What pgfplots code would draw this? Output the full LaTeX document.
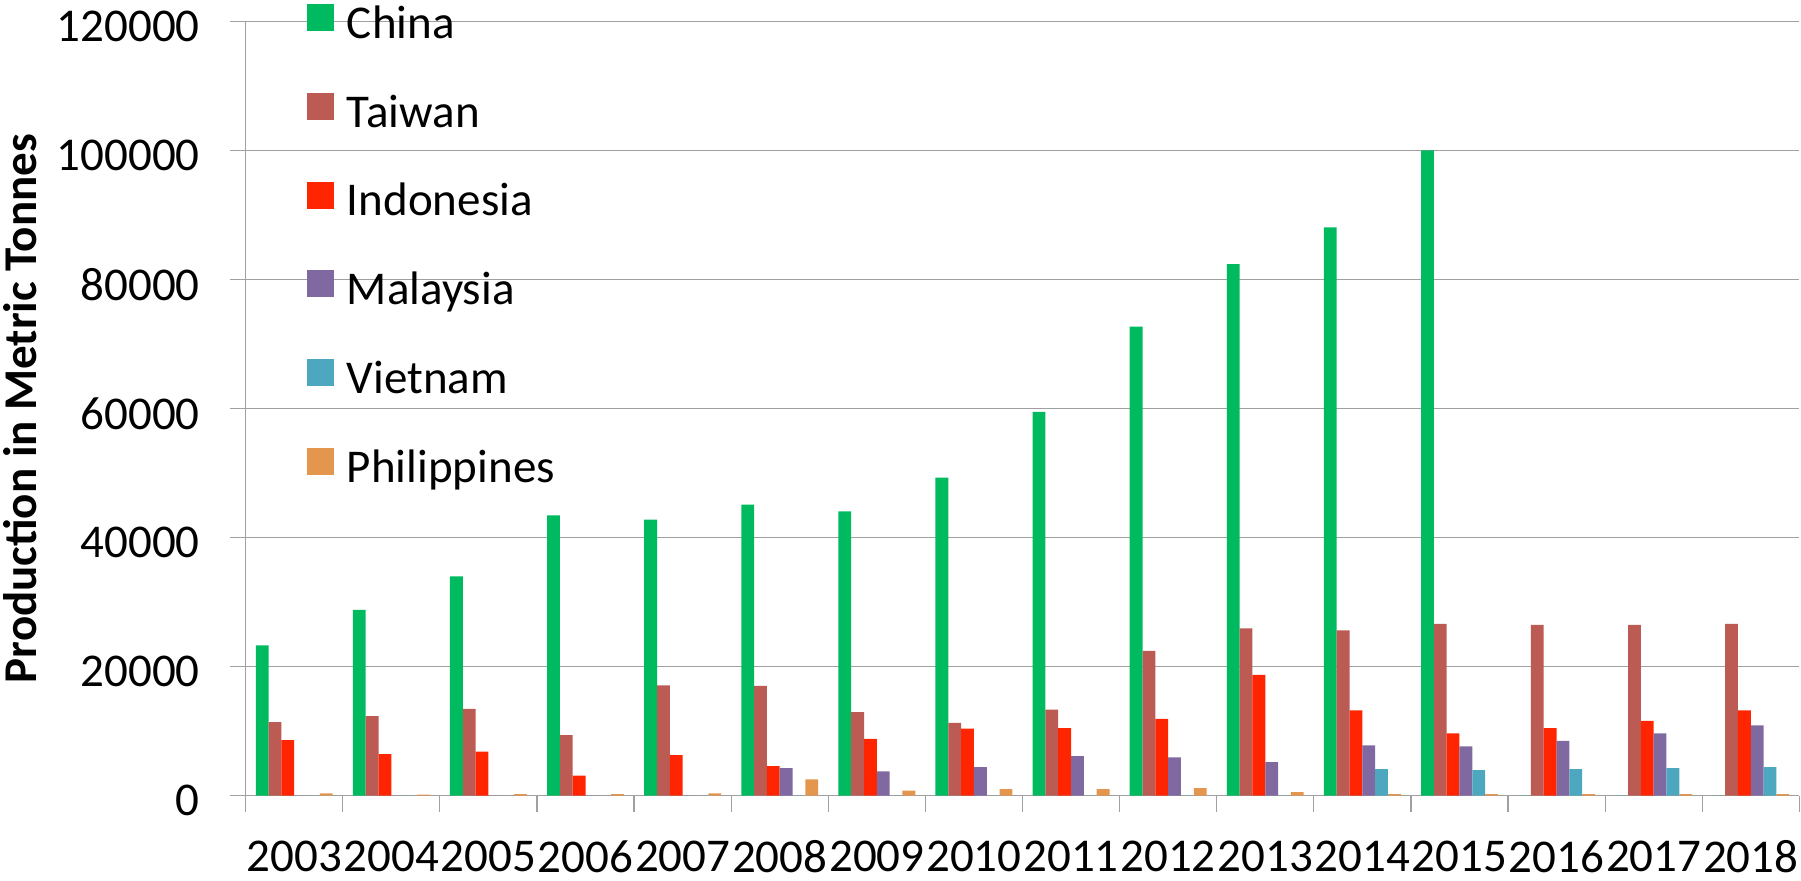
\documentclass[border=0pt]{standalone}
\usepackage{fontspec}
\setmainfont{Carlito}
\usepackage{pgfplots}
\pgfplotsset{compat=1.18}
\usepackage{pgfplotstable}

\definecolor{cChina}{HTML}{00BA60}
\definecolor{cTaiwan}{HTML}{BB5B53}
\definecolor{cIndonesia}{HTML}{FF2500}
\definecolor{cMalaysia}{HTML}{8068A0}
\definecolor{cVietnam}{HTML}{4DA8BF}
\definecolor{cPhilippines}{HTML}{E4954E}
\definecolor{cGrid}{HTML}{A0A0A0}

\pgfplotstableread{
x China Taiwan Indonesia Malaysia Vietnam Philippines
0 23300 11420 8630 0 0 360
1 28780 12350 6460 0 0 150
2 34000 13440 6820 0 0 260
3 43450 9400 3100 0 0 260
4 42770 17100 6300 0 0 360
5 45090 17000 4600 4290 0 2530
6 44070 12970 8790 3770 0 780
7 49280 11270 10390 4440 0 1030
8 59460 13330 10490 6150 0 1030
9 72670 22430 11890 5940 0 1190
10 82390 25940 18710 5220 0 570
11 88080 25630 13230 7800 4130 260
12 100000 26620 9660 7650 3980 260
13 0 26460 10490 8480 4130 260
14 0 26460 11580 9660 4290 260
15 0 26620 13230 10900 4440 260
}\datatable

\newcommand{\bigfont}{\fontsize{23.5}{28}\selectfont}

\begin{document}
\begin{tikzpicture}
\path[use as bounding box] (-122.85pt,-42.15pt) rectangle (777.65pt,397.85pt);
\begin{axis}[
  at={(0,0)}, anchor=south west,
  width=776.8pt, height=387.2pt, scale only axis,
  xmin=-0.5, xmax=15.5, ymin=0, ymax=120000,
  ybar=0pt, bar width=0.132,
  axis x line*=bottom, axis y line*=left,
  axis line style={cGrid, line width=0.6pt},
  tick align=outside,
  major tick length=7.8pt, minor tick length=8pt,
  xtick={0,...,15},
  xticklabels={2003,2004,2005,2006,2007,2008,2009,2010,2011,2012,2013,2014,2015,2016,2017,2018},
  major x tick style={draw=none},
  minor xtick={-0.5,0.5,...,15.5},
  minor x tick style={cGrid, line width=0.6pt},
  ytick={0,20000,...,120000},
  major y tick style={cGrid, line width=0.6pt},
  scaled y ticks=false,
  yticklabel style={/pgf/number format/fixed, /pgf/number format/1000 sep={}, font=\bigfont, inner sep=0pt, xshift=-15pt, yshift=-2.5pt},
  xticklabel style={font=\bigfont, inner sep=0pt, yshift=-14.5pt},
  /pgf/number format/assume math mode=true,
  ymajorgrids, grid style={cGrid, line width=0.6pt},
  ylabel={Production in Metric Tonnes},
  ylabel style={font=\bfseries\bigfont, at={(axis description cs:-0.1565,0.5)}, anchor=north, inner sep=0pt, rotate=0},
  legend style={at={(0,1)}, anchor=north west, xshift=30.65pt, yshift=8.65pt,
    draw=none, fill=none, inner sep=0pt, outer sep=0pt,
    row sep=22.25pt, column sep=6.5pt, font=\bigfont,
    nodes={inner sep=0pt, text height=17pt, text depth=5pt}},
  legend cell align=left,
  legend image code/.code={\fill[#1,draw=none] (0pt,-2.35pt) rectangle (13.5pt,11.15pt);},
]
\addplot[fill=cChina, draw=none] table[x=x,y=China]{\datatable};
\addplot[fill=cTaiwan, draw=none] table[x=x,y=Taiwan]{\datatable};
\addplot[fill=cIndonesia, draw=none] table[x=x,y=Indonesia]{\datatable};
\addplot[fill=cMalaysia, draw=none] table[x=x,y=Malaysia]{\datatable};
\addplot[fill=cVietnam, draw=none] table[x=x,y=Vietnam]{\datatable};
\addplot[fill=cPhilippines, draw=none] table[x=x,y=Philippines]{\datatable};
\legend{China,Taiwan,Indonesia,Malaysia,Vietnam,Philippines}
\end{axis}
\end{tikzpicture}
\end{document}
